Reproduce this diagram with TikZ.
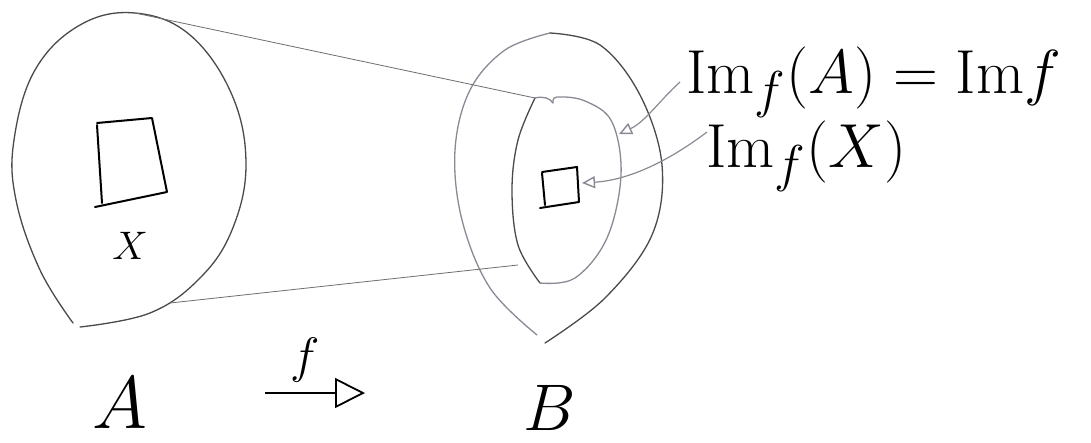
\documentclass[tikz,border=0pt]{standalone}
\usetikzlibrary{arrows.meta}
\definecolor{inkgray}{HTML}{4A4A4A}
\definecolor{lightink}{HTML}{8A8A96}
\tikzset{
  blob/.style={draw=inkgray, line width=1.3pt, line cap=round},
  lightblob/.style={draw=lightink, line width=1.3pt, line cap=round},
  sqr/.style={draw=black, line width=2pt, line join=round, line cap=round},
  thinline/.style={draw=inkgray!80, line width=0.8pt},
  ptr/.style={draw=lightink, line width=1.2pt, -{Triangle[open,length=13pt,width=12pt,line width=1.4pt]}},
  lbl/.style={inner sep=0pt, text=black, font=\Huge},
}
\begin{document}
\begin{tikzpicture}[x=1pt,y=-1pt]
\useasboundingbox[fill=white] (0,0) rectangle (1091,442);
% set A
\draw[blob] plot[smooth, tension=0.65] coordinates {(73,323) (40,270) (16,200) (14,140) (35,70) (80,25) (135,13) (190,35) (232,95) (246,165) (232,230) (200,278) (150,313) (80,327)};
\draw[sqr] (97,123) -- (152,118) -- (167,192) -- (95,207);
\draw[sqr] (97,125) -- (102,203);
\node[lbl, scale=1.6] (xa) at (130,246) {$X$};
% set B outer
\draw[lightblob] plot[smooth, tension=0.6] coordinates {(537,335) (490,288) (462,220) (455,150) (470,90) (505,50) (550,33)};
\draw[blob] plot[smooth, tension=0.6] coordinates {(550,33) (600,45) (640,95) (662,165) (652,235) (605,298) (545,343)};
% inner Im f(A)
\draw[blob] plot[smooth, tension=0.6] coordinates {(535,98) (518,140) (512,190) (518,245) (540,283)};
\draw[lightblob] plot[smooth, tension=0.6] coordinates {(540,283) (575,278) (607,238) (621,175) (612,122) (585,101) (557,97) (553,103)};
\draw[lightblob] (553,103) .. controls (550,98) and (543,96) .. (535,98);
% small square
\draw[sqr] (542,172) -- (577,167) -- (579,202) -- (540,208);
\draw[sqr] (542,173) -- (545,205);
% connector endpoints
\coordinate (atop) at (135,13);
\coordinate (abot) at (170,303);
\coordinate (itop) at (535,98);
\coordinate (ibot) at (518,265);
\draw[thinline] (atop) -- (itop);
\draw[thinline] (abot) -- (ibot);
% labels
\node[lbl, anchor=base west, scale=2.5] (l1) at (686,93) {$\mathrm{Im}_f(A) = \mathrm{Im} f$};
\node[lbl, anchor=base west, scale=2.5] (l2) at (706,167) {$\mathrm{Im}_f(X)$};
\coordinate (s1) at (680,82);
\coordinate (e1) at (619,134);
\coordinate (s2) at (707,132);
\coordinate (e2) at (582,183);
\draw[ptr] (s1) .. controls (660,100) and (645,122) .. (e1);
\draw[ptr] (s2) .. controls (670,160) and (630,180) .. (e2);
% A, B, f
\node[lbl, scale=3.0] (la) at (120,403) {$A$};
\node[lbl, scale=2.65] (lb) at (550,408) {$B$};
\coordinate (fs) at (265,393);
\coordinate (fe) at (365,393);
\draw[draw=black, line width=1.8pt, -{Triangle[open,length=30pt,width=30pt,line width=1.8pt]}] (fs) -- (fe);
\node[lbl, scale=2.0] (lf) at (305,360) {$f$};
\end{tikzpicture}
\end{document}
